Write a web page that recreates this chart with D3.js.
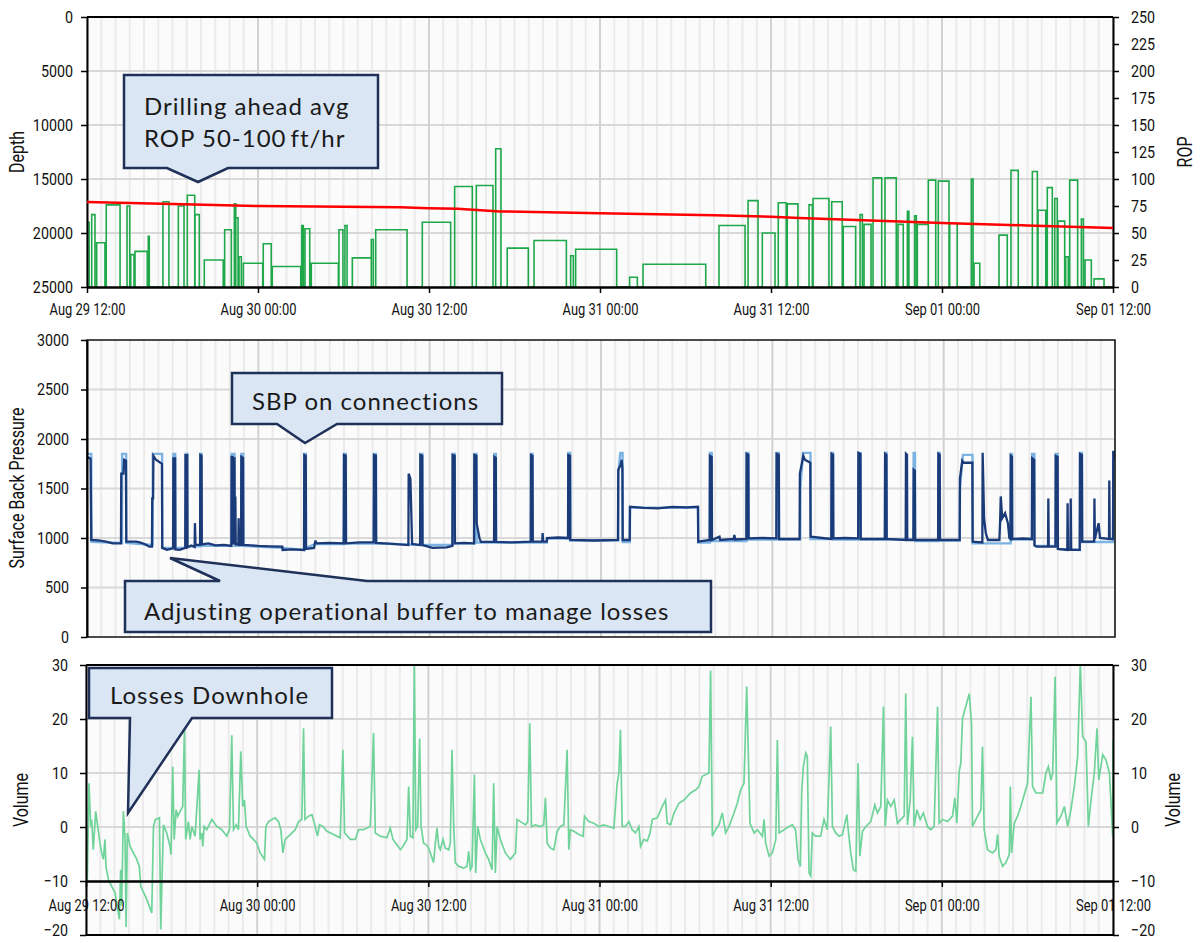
<!DOCTYPE html>
<html lang="en">
<head>
<meta charset="UTF-8">
<title>Depth / ROP, Surface Back Pressure and Volume</title>
<script src="https://d3js.org/d3.v7.min.js"></script>
<style>
  body { margin: 0; background: #fff; }
  .tick text, .axis-title {
    font-family: Roboto, "Liberation Sans", sans-serif;
    fill: #111;
  }
  .axis-title { font-size: 20px; }
  .callout path { fill: #dae6f4; stroke: #1f3158; stroke-width: 2.5; }
  .callout text { font-family: Lato, "Open Sans", sans-serif; font-size: 24px; letter-spacing: 1px; fill: #1a1a1a; }
</style>
</head>
<body>
<svg id="chart" width="1200" height="943"></svg>
<script>
// ---- data (hours since Aug 29 12:00) ----
const hourTicks = [0, 12, 24, 36, 48, 60, 72];
const tickLabels = ["Aug 29 12:00", "Aug 30 00:00", "Aug 30 12:00", "Aug 31 00:00", "Aug 31 12:00", "Sep 01 00:00", "Sep 01 12:00"];
const depthTicks = [0, 5000, 10000, 15000, 20000, 25000];
const ropTicks = [0, 25, 50, 75, 100, 125, 150, 175, 200, 225, 250];
const sbpTicks = [0, 500, 1000, 1500, 2000, 2500, 3000];
const volTicks = [-20, -10, 0, 10, 20, 30];

// bit depth (red)
const depthHours = [0, 6, 12, 18, 22, 24, 26, 29, 36, 44, 48, 50, 54, 60, 66, 72];
const depthValues = [17130, 17320, 17500, 17580, 17620, 17700, 17760, 18000, 18180, 18360, 18500, 18620, 18800, 19080, 19300, 19540];

// ROP stands (green)
const ropStart = [0, 0.33, 0.68, 1.35, 2.81, 3.07, 3.37, 4.30, 5.33, 6.41, 7.04, 7.58, 8.23, 9.66, 10.34, 10.44, 10.67, 10.97, 12.37, 13.0,
  15.07, 15.3, 15.74, 17.68, 18.1, 18.62, 19.95, 20.26, 23.53, 25.8, 27.32, 28.68, 29.49, 31.37, 33.94, 34.29, 38.08, 39.02, 44.35, 46.39,
  47.39, 48.51, 49.14, 50.67, 50.95, 52.26, 53.07, 54.25, 54.53, 55.16, 56.0, 56.91, 57.57, 58.08, 58.27, 59.04, 59.74, 60.54, 62.06, 62.25,
  64.0, 64.84, 66.34, 66.74, 67.39, 67.91, 68.14, 68.68, 68.96, 69.78, 70.04, 70.67];
const ropEnd = [0.15, 0.56, 1.26, 2.32, 3.0, 3.3, 4.23, 4.37, 5.75, 6.81, 7.56, 7.88, 9.56, 10.13, 10.44, 10.6, 10.83, 12.33, 12.93, 15.0,
  15.18, 15.63, 17.64, 17.96, 18.25, 19.95, 20.09, 22.46, 25.52, 27.04, 28.49, 29.05, 30.97, 33.64, 34.13, 37.17, 38.62, 43.42, 46.18, 47.09,
  48.28, 49.07, 49.89, 50.9, 52.07, 53.0, 53.94, 54.41, 55.02, 55.77, 56.79, 57.28, 57.68, 58.2, 59.04, 59.56, 60.49, 61.07, 62.18, 62.65,
  64.58, 65.35, 66.69, 67.28, 67.74, 68.09, 68.61, 68.86, 69.52, 69.92, 70.48, 71.37];
const ropValue = [60, 67, 41, 76, 75, 30, 33, 47, 79, 75, 85, 67, 25, 53, 77, 64, 28, 22, 40, 19,
  57, 54, 22, 53, 57, 27, 44, 53, 60, 93, 94, 128, 36, 43, 29, 35, 9, 21, 57, 80,
  50, 78, 77, 76, 82, 79, 56, 67, 58, 101, 101, 58, 70, 66, 58, 99, 98, 59, 100, 22,
  48, 108, 107, 71, 92, 82, 61, 28, 99, 63, 25, 7.5];

// surface back pressure, setpoint (light blue) and actual (dark blue)
const sbpSetpoint = [[0,1850],[0.3,1850],[0.31,960],[2.45,950],[2.46,1850],[2.74,1850],[2.75,950],[4.6,930],[4.61,1850],[5.26,1850],[5.27,900],
  [6.04,900],[6.05,1850],[6.18,1850],[6.19,900],[6.9,900],[6.91,1850],[7.02,1850],[7.03,915],[7.93,915],[7.94,1850],[8.03,1850],[8.04,920],
  [10.12,920],[10.13,1850],[10.33,1850],[10.34,920],[10.8,920],[10.81,1850],[10.94,1850],[10.95,920],[13.7,900],[15.21,880],[15.22,1850],
  [15.33,1850],[15.34,900],[16.0,940],[17.99,940],[18.0,1850],[18.13,1850],[18.14,945],[20.09,945],[20.1,1850],[20.24,1850],[20.25,945],
  [23.34,930],[23.35,1850],[23.49,1850],[23.5,930],[25.6,930],[25.61,1850],[25.76,1850],[25.77,945],[27.12,945],[27.13,1850],[27.28,1850],
  [27.29,955],[28.52,955],[28.53,1850],[28.64,1850],[28.65,955],[31.09,955],[31.1,1850],[31.21,1850],[31.22,955],[32.2,955],[32.22,995],
  [33.7,995],[33.71,1860],[33.84,1860],[33.85,975],[37.2,975],[37.21,1650],[37.35,1860],[37.51,1860],[37.52,960],[38.02,960],[38.03,1305],
  [42.8,1305],[42.81,955],[43.62,955],[43.63,1860],[43.76,1860],[43.77,970],[46.19,970],[46.2,1860],[46.33,1860],[46.34,985],[48.29,985],
  [48.3,1860],[48.46,1860],[48.47,985],[49.95,985],[49.96,1500],[50.15,1860],[50.67,1860],[50.68,990],[52.14,990],[52.15,1860],[52.26,1860],
  [52.27,985],[54.02,985],[54.03,1860],[54.18,1860],[54.19,985],[55.89,985],[55.9,1860],[56.0,1860],[56.01,985],[57.88,985],[57.9,1860],
  [57.99,1860],[58.0,970],[59.62,970],[59.63,1860],[59.73,1860],[59.74,975],[61.13,975],[61.14,1500],[61.35,1840],[62.02,1840],[62.03,946],
  [64.69,946],[64.7,1850],[64.79,1850],[64.8,985],[66.19,985],[66.2,1850],[66.35,1850],[66.36,920],[67.84,920],[67.85,1850],[67.99,1850],
  [68.0,890],[69.54,880],[69.55,1860],[69.69,1860],[69.7,960],[71.87,960],[71.88,1870],[72,1870]];

const sbpActual = [[0,1820],[0.25,1800],[0.3,980],[0.8,975],[1.33,963],[1.8,946],[2.38,946],[2.4,1650],[2.55,1650],[2.6,1790],[2.73,1780],[2.75,963],
  [3.43,963],[3.7,955],[4.02,940],[4.37,912],[4.55,912],[4.57,1400],[4.63,1400],[4.65,1830],[4.83,1790],[5.25,1750],[5.27,900],[5.6,880],[6.03,896],
  [6.05,1805],[6.17,1805],[6.19,885],[6.5,880],[6.88,900],[6.9,1838],[7.02,1838],[7.04,905],[7.3,925],[7.54,910],[7.56,1150],[7.6,930],[7.92,930],[7.94,1838],
  [8.02,1830],[8.04,935],[8.5,945],[9.0,925],[9.6,930],[10.11,920],[10.13,1820],[10.2,1820],[10.22,935],[10.27,1805],[10.33,1805],[10.35,935],[10.39,1420],
  [10.42,935],[10.6,935],[10.62,1200],[10.65,930],[10.79,930],[10.81,1820],[10.93,1810],[10.95,930],[11.5,925],[12.0,920],[12.8,915],[13.68,912],[13.7,879],
  [14.4,885],[15.2,879],[15.22,1838],[15.32,1830],[15.34,890],[15.9,900],[16.0,975],[16.05,946],[17.0,950],[17.98,946],[18.0,1838],[18.12,1830],[18.14,946],
  [19.1,955],[20.08,955],[20.1,1838],[20.23,1830],[20.25,950],[21.4,940],[22.51,929],[22.53,1650],[22.65,1600],[22.77,940],[23.33,929],[23.35,1838],[23.48,1830],
  [23.5,929],[24.2,900],[25.2,905],[25.59,920],[25.61,1838],[25.75,1830],[25.77,946],[26.4,950],[27.11,946],[27.13,1838],[27.27,1830],[27.29,1150],
  [27.5,990],[27.6,960],[28.51,960],[28.53,1820],[28.63,1810],[28.65,960],[29.8,955],[31.08,963],[31.1,1838],[31.2,1830],[31.22,963],[31.89,963],
  [31.91,1050],[31.95,963],[32.2,963],[32.22,1000],[33.0,1005],[33.69,1000],[33.71,1838],[33.83,1830],[33.85,980],[35.5,975],[37.19,980],[37.21,1690],[37.38,1740],
  [37.45,1790],[37.5,1700],[37.52,980],[38.01,980],[38.03,1316],[39,1305],[40,1300],[41,1315],[42,1310],[42.79,1316],[42.81,963],[43.61,980],[43.63,1830],
  [43.75,1820],[43.77,980],[44.3,1013],[44.35,980],[45.3,990],[45.34,1030],[45.4,985],[46.18,990],[46.2,1850],[46.32,1840],[46.34,997],
  [47.3,1000],[48.28,997],[48.3,1850],[48.45,1840],[48.47,990],[49.91,990],[49.93,1650],[50.17,1830],[50.28,1790],[50.66,1760],[50.68,1013],[52.13,990],
  [52.15,1850],[52.25,1840],[52.27,997],[53.1,1000],[54.01,997],[54.03,1860],[54.17,1850],[54.19,990],[55.88,990],[55.9,1850],[55.99,1840],[56.01,990],
  [57.34,980],[57.36,1850],[57.43,1840],[57.45,980],[57.88,980],[57.9,1690],[57.98,1680],[58.0,980],[59.61,980],[59.63,1850],[59.72,1840],
  [59.74,980],[61.12,980],[61.14,1600],[61.3,1780],[61.4,1760],[62.01,1760],[62.03,963],[62.71,955],[62.73,1860],[62.83,1200],[62.95,1050],
  [63.1,980],[63.9,980],[63.95,1150],[64.0,1420],[64.1,1200],[64.3,1250],[64.5,1150],[64.6,1000],[64.68,990],[64.7,1830],[64.78,1820],
  [64.8,990],[65.5,995],[66.18,990],[66.2,1805],[66.34,1790],[66.36,929],[66.5,912],[67.31,912],[67.33,1400],[67.36,912],[67.83,912],
  [67.85,1830],[67.98,1820],[68.0,890],[68.66,880],[68.68,1350],[68.71,880],[68.88,885],[68.9,1400],[68.93,880],[69.53,880],[69.55,1850],
  [69.68,1840],[69.7,963],[70.54,963],[70.56,1400],[70.59,990],[70.85,1150],[70.95,1000],[71.58,990],[71.6,1580],[71.63,990],[71.86,990],
  [71.88,1880],[72,1800]];

// pit volume (green)
const volume = [[0,-8.5],[0.09,-9.7],[0.21,8.1],[0.33,0.1],[0.40,1.4],[0.51,-4.2],[0.68,2.9],[0.82,0.1],[0.98,-3.0],[1.10,-4.8],[1.22,-6.0],
  [1.33,-2.3],[1.40,-7.3],[1.57,-9.7],[1.80,-11.0],[2.04,-12.2],[2.34,-17.1],[2.43,-7.9],[2.50,-14.6],[2.62,2.9],[2.74,-2.3],[2.81,-18.5],
  [2.90,-1.1],[3.09,-3.6],[3.32,-4.8],[3.56,-6.0],[3.74,-7.3],[3.84,-11.0],[4.26,-13.4],[4.61,-15.9],[4.73,0.1],[4.87,1.4],[5.15,1.7],
  [5.24,-19],[5.33,-9.7],[5.43,0.4],[5.66,-1.1],[5.89,-3.6],[5.96,-5.1],[6.08,11.2],[6.18,-2.3],[6.32,3.2],[6.43,2.0],[6.60,2.9],[6.78,3.8],
  [6.90,18.0],[6.99,-2.3],[7.18,1.0],[7.30,-2.3],[7.42,0.1],[7.65,-1.7],[7.93,10.6],[8.00,-2.3],[8.12,-1.1],[8.19,-3.6],[8.28,0.1],[8.47,-0.5],
  [8.82,1.4],[9.17,0.1],[9.52,-0.5],[9.87,-1.7],[10.06,-0.5],[10.22,17.0],[10.34,-0.5],[10.53,0.4],[10.69,-0.5],[10.85,14.0],[10.99,3.8],
  [11.11,5.0],[11.23,0.1],[11.51,-1.7],[11.74,-2.3],[11.98,-3.0],[12.21,-4.8],[12.51,-6.0],[12.61,0.1],[12.80,1.0],[13.03,1.4],[13.26,1.7],
  [13.50,1.0],[13.66,-0.5],[13.80,-4.8],[13.96,-2.3],[14.32,-1.4],[14.67,-0.5],[14.90,1.0],[15.13,1.4],[15.25,18.3],[15.35,1.4],[15.60,2.0],
  [15.84,2.3],[16.07,0.1],[16.23,-1.7],[16.37,0.4],[16.61,0.1],[16.89,-0.8],[17.36,-1.4],[17.82,-2.0],[18.01,14.3],[18.13,-1.1],[18.53,-2.3],
  [18.88,-2.3],[19.11,-0.5],[19.46,-0.5],[19.93,0.1],[20.16,17.4],[20.28,-1.1],[20.63,-1.7],[21.10,-2.0],[21.33,-0.2],[21.52,-2.3],[21.80,-3.3],
  [22.04,-4.2],[22.22,-3.6],[22.50,-2.3],[22.62,7.5],[22.74,-1.7],[22.92,-2.0],[23.02,31],[23.12,-0.5],[23.25,0.1],[23.39,16.4],[23.49,0.1],
  [23.67,-3.0],[23.86,-3.3],[24.02,-3.9],[24.14,-4.8],[24.37,-6.6],[24.49,-3.0],[24.61,-0.2],[24.73,-3.6],[24.84,-4.2],[25.03,-2.3],[25.19,-3.9],
  [25.43,-4.2],[25.54,-3.0],[25.66,14.3],[25.78,0.1],[25.89,-6.6],[26.13,-7.3],[26.48,-7.6],[26.71,-7.3],[26.83,-4.5],[26.95,-7.9],[27.06,-7.3],
  [27.23,9.7],[27.32,-8.5],[27.46,0.1],[27.65,-2.3],[28.00,-4.8],[28.23,-6.0],[28.47,-7.9],[28.58,8.1],[28.70,-8.5],[28.82,0.1],[29.05,-2.3],
  [29.40,-4.8],[29.75,-6.0],[30.11,-4.8],[30.22,1.4],[30.46,1.0],[30.81,0.4],[30.97,1.0],[31.11,19.2],[31.23,0.1],[31.51,0.4],[31.86,0.1],
  [32.09,0.4],[32.21,5.4],[32.33,-3.0],[32.56,-3.9],[32.80,-4.2],[33.03,-0.8],[33.26,0.1],[33.50,0.4],[33.73,14.3],[33.85,-4.2],[33.96,-0.5],
  [34.20,-0.8],[34.55,-1.4],[34.85,-1.7],[34.95,2.0],[35.25,1.0],[35.60,0.7],[35.95,0.1],[36.30,0.4],[36.66,0.1],[37.01,-0.2],[37.24,8.1],
  [37.36,10.0],[37.47,18.0],[37.59,0.1],[37.82,0.1],[38.06,1.0],[38.29,-0.5],[38.53,-1.1],[38.76,0.1],[38.88,-3.6],[39.11,-2.3],[39.35,-2.6],
  [39.54,-1.1],[39.70,1.4],[40.05,1.7],[40.40,3.8],[40.63,5.0],[40.75,0.7],[40.98,0.4],[41.22,2.6],[41.57,4.4],[41.92,5.0],[42.39,6.3],
  [42.74,6.9],[42.97,7.5],[43.20,9.4],[43.67,10.0],[43.79,29.0],[43.91,-1.7],[44.14,-0.5],[44.37,0.4],[44.61,2.6],[44.84,-1.1],[45.08,0.1],
  [45.43,2.6],[45.66,4.4],[45.90,6.9],[46.13,8.1],[46.32,26.0],[46.55,0.7],[46.84,-1.1],[47.07,-0.5],[47.42,-1.7],[47.54,1.4],[47.65,-3.0],
  [47.89,-5.4],[48.12,-4.8],[48.36,-2.3],[48.47,16.1],[48.59,-1.1],[48.94,-0.5],[49.29,0.1],[49.52,0.4],[49.75,-0.5],[49.92,-6.0],[50.08,-7.3],
  [50.18,6.9],[50.29,11.2],[50.46,13.7],[50.57,13.0],[50.69,-8.5],[50.81,-9.1],[50.92,-1.1],[51.15,-1.7],[51.50,-1.7],[51.74,1.4],[51.97,-0.5],
  [52.21,18.6],[52.33,0.1],[52.56,-1.1],[52.80,-1.7],[53.03,-1.4],[53.34,2.3],[53.46,-1.1],[53.61,-4.8],[53.80,-7.9],[53.97,-8.2],[54.13,11.8],
  [54.25,-5.4],[54.44,-0.8],[54.67,0.1],[55.02,1.0],[55.30,4.1],[55.49,2.6],[55.72,3.8],[55.91,22.3],[56.03,0.1],[56.19,5.0],[56.42,3.8],
  [56.66,5.0],[56.89,0.7],[57.12,1.4],[57.36,2.0],[57.47,24.7],[57.59,0.4],[57.78,5.0],[57.94,16.7],[58.06,0.1],[58.25,3.2],[58.48,1.4],
  [58.71,2.6],[58.99,0.1],[59.23,-0.5],[59.46,0.1],[59.70,22.3],[59.81,0.7],[60.05,1.4],[60.40,1.0],[60.75,2.0],[60.91,5.4],[61.05,0.7],
  [61.22,10.3],[61.33,11.8],[61.45,20.1],[61.68,22.3],[61.92,24.7],[62.08,19.2],[62.15,0.1],[62.39,1.4],[62.74,3.2],[62.85,14.9],[62.97,-0.5],
  [63.20,-4.2],[63.56,-4.8],[63.79,-4.2],[63.91,-1.4],[64.02,-5.4],[64.26,-7.3],[64.49,-6.6],[64.73,-5.1],[64.80,7.5],[64.89,-4.8],[65.08,0.7],
  [65.31,2.0],[65.54,3.8],[65.78,6.0],[66.01,8.1],[66.25,24.1],[66.36,7.5],[66.60,6.3],[66.83,6.3],[67.07,6.3],[67.30,10.0],[67.47,11.2],
  [67.65,8.7],[67.77,10.0],[67.94,27.8],[68.07,0.7],[68.35,2.0],[68.59,3.8],[68.82,0.1],[69.05,3.2],[69.29,7.5],[69.52,13.0],[69.71,30.5],
  [69.87,16.7],[70.11,15.8],[70.27,0.1],[70.46,5.0],[70.69,10.0],[70.88,18.3],[71.00,8.7],[71.28,13.4],[71.51,12.4],[71.75,10.0],[71.98,-1.7],
  [72,16.1]];

// ---- layout ----
const svg = d3.select("#chart");
const hours = d3.range(0, 73);   // hourly grid
const plain = d3.format("d");

const p1 = { left: 87, right: 1113, top: 17, bottom: 287 };
const p2 = { left: 87, right: 1115, top: 340, bottom: 637 };
const p3 = { left: 86, right: 1113, top: 665, bottom: 935 };

function background(p, x, yVals, y) {
  const g = svg.append("g");
  g.append("rect").attr("x", p.left).attr("y", p.top)
    .attr("width", p.right - p.left).attr("height", p.bottom - p.top)
    .attr("fill", "#fbfbfb");
  g.selectAll(".vminor").data(hours.filter(h => h % 12 !== 0)).enter().append("line")
    .attr("x1", d => x(d)).attr("x2", d => x(d)).attr("y1", p.top).attr("y2", p.bottom)
    .attr("stroke", "#ebebeb").attr("stroke-width", 2);
  g.selectAll(".hgrid").data(yVals).enter().append("line")
    .attr("x1", p.left).attr("x2", p.right).attr("y1", d => y(d)).attr("y2", d => y(d))
    .attr("stroke", "#d9d9d9").attr("stroke-width", 2);
  g.selectAll(".vmajor").data(hourTicks).enter().append("line")
    .attr("x1", d => x(d)).attr("x2", d => x(d)).attr("y1", p.top).attr("y2", p.bottom)
    .attr("stroke", "#d2d2d2").attr("stroke-width", 2);
}

function clipFor(id, p) {
  svg.append("clipPath").attr("id", id).append("rect")
    .attr("x", p.left).attr("y", p.top).attr("width", p.right - p.left).attr("height", p.bottom - p.top);
}

// squeeze text horizontally to mimic the condensed face of the original
function squeeze(sel, f) {
  sel.each(function () {
    const w = this.getComputedTextLength();
    d3.select(this).attr("textLength", w * f).attr("lengthAdjust", "spacingAndGlyphs");
  });
}

function styleAxis(g, width, f) {
  g.select(".domain").attr("stroke", "#000").attr("stroke-width", width);
  g.selectAll(".tick line").attr("stroke", "#000").attr("stroke-width", 1.5);
  g.selectAll(".tick text").attr("font-size", 17).attr("font-family", null);
  squeeze(g.selectAll(".tick text"), f || 0.84);
}

function axisTitle(x, y, text) {
  svg.append("text").attr("class", "axis-title")
    .attr("transform", `translate(${x},${y}) rotate(-90)`)
    .attr("text-anchor", "middle").text(text)
    .call(t => squeeze(t, 0.8));
}

// ---- panel 1: depth and ROP ----
const x1 = d3.scaleLinear().domain([0, 72]).range([p1.left, p1.right]);
const yDepth = d3.scaleLinear().domain([0, 25000]).range([p1.top, p1.bottom]);
const yRop = d3.scaleLinear().domain([0, 250]).range([p1.bottom, p1.top]);

background(p1, x1, [5000, 10000, 15000, 20000], yDepth);
clipFor("clip1", p1);

const ropPts = [];
ropStart.forEach((s, i) => {
  ropPts.push([s, 0], [s, ropValue[i]], [ropEnd[i], ropValue[i]], [ropEnd[i], 0]);
});
ropPts.push([72, 0]);

svg.append("path").datum(ropPts).attr("clip-path", "url(#clip1)")
  .attr("fill", "none").attr("stroke", "#1fa84a").attr("stroke-width", 1.6)
  .attr("d", d3.line().x(d => x1(d[0])).y(d => yRop(d[1])));

svg.append("line").attr("x1", p1.left).attr("x2", p1.right).attr("y1", p1.top).attr("y2", p1.top)
  .attr("stroke", "#000").attr("stroke-width", 2);

svg.append("g").attr("transform", `translate(0,${p1.bottom})`)
  .call(d3.axisBottom(x1).tickValues(hourTicks).tickFormat((d, i) => tickLabels[i]).tickSize(6).tickSizeOuter(0).tickPadding(10))
  .call(g => styleAxis(g, 2.5, 0.76));
svg.append("g").attr("transform", `translate(${p1.left},0)`)
  .call(d3.axisLeft(yDepth).tickValues(depthTicks).tickFormat(plain).tickSize(6).tickSizeOuter(0).tickPadding(8))
  .call(g => styleAxis(g, 2));
svg.append("g").attr("transform", `translate(${p1.right},0)`)
  .call(d3.axisRight(yRop).tickValues(ropTicks).tickSize(6).tickSizeOuter(0).tickPadding(12))
  .call(g => styleAxis(g, 2));

svg.append("path").datum(depthHours.map((h, i) => [h, depthValues[i]]))
  .attr("fill", "none").attr("stroke", "#ff0000").attr("stroke-width", 2.5)
  .attr("d", d3.line().x(d => x1(d[0])).y(d => yDepth(d[1])));

axisTitle(24, 152, "Depth");
axisTitle(1192, 152, "ROP");

// ---- panel 2: surface back pressure ----
const x2 = d3.scaleLinear().domain([0, 72]).range([p2.left, p2.right]);
const ySbp = d3.scaleLinear().domain([0, 3000]).range([p2.bottom, p2.top]);

background(p2, x2, [500, 1000, 1500, 2000, 2500], ySbp);
clipFor("clip2", p2);

const sbpLine = d3.line().x(d => x2(d[0])).y(d => ySbp(d[1]));
svg.append("path").datum(sbpSetpoint).attr("clip-path", "url(#clip2)")
  .attr("fill", "none").attr("stroke", "#7db3e3").attr("stroke-width", 2.4).attr("d", sbpLine);
svg.append("path").datum(sbpActual).attr("clip-path", "url(#clip2)")
  .attr("fill", "none").attr("stroke", "#1b3a78").attr("stroke-width", 2.3).attr("d", sbpLine);

svg.append("rect").attr("x", p2.left).attr("y", p2.top)
  .attr("width", p2.right - p2.left).attr("height", p2.bottom - p2.top)
  .attr("fill", "none").attr("stroke", "#111").attr("stroke-width", 1.5);
svg.append("g").attr("transform", `translate(${p2.left},0)`)
  .call(d3.axisLeft(ySbp).tickValues(sbpTicks).tickFormat(plain).tickSize(6).tickSizeOuter(0).tickPadding(12))
  .call(g => styleAxis(g, 2));

axisTitle(24, 488, "Surface Back Pressure");

// ---- panel 3: volume ----
const x3 = d3.scaleLinear().domain([0, 72]).range([p3.left, p3.right]);
const yVol = d3.scaleLinear().domain([-20, 30]).range([p3.bottom, p3.top]);

background(p3, x3, [0, 10, 20], yVol);
clipFor("clip3", p3);

svg.append("path").datum(volume).attr("clip-path", "url(#clip3)")
  .attr("fill", "none").attr("stroke", "#6fd39a").attr("stroke-width", 1.7)
  .attr("d", d3.line().x(d => x3(d[0])).y(d => yVol(d[1])));

svg.append("line").attr("x1", p3.left).attr("x2", p3.right).attr("y1", p3.top).attr("y2", p3.top)
  .attr("stroke", "#000").attr("stroke-width", 2);
svg.append("line").attr("x1", p3.left).attr("x2", p3.right).attr("y1", p3.bottom).attr("y2", p3.bottom)
  .attr("stroke", "#000").attr("stroke-width", 2);
svg.append("g").attr("transform", `translate(0,${yVol(-10)})`)
  .call(d3.axisBottom(x3).tickValues(hourTicks).tickFormat((d, i) => tickLabels[i]).tickSize(6).tickSizeOuter(0).tickPadding(12))
  .call(g => styleAxis(g, 2.5, 0.76));

// the lowest label sits at the very bottom of the page: lift it a little
function liftBottom(g) {
  g.selectAll(".tick text").filter(d => d === -20).attr("dy", "0.05em");
}
svg.append("g").attr("transform", `translate(${p3.left},0)`)
  .call(d3.axisLeft(yVol).tickValues(volTicks).tickSize(6).tickSizeOuter(0).tickPadding(12))
  .call(g => styleAxis(g, 2)).call(liftBottom);
svg.append("g").attr("transform", `translate(${p3.right},0)`)
  .call(d3.axisRight(yVol).tickValues(volTicks).tickSize(6).tickSizeOuter(0).tickPadding(12))
  .call(g => styleAxis(g, 2)).call(liftBottom);

axisTitle(28, 800, "Volume");
axisTitle(1180, 800, "Volume");

// ---- callouts ----
const callouts = [
  { path: "M124,75 H378 V168 H228 L198,182 L167,168 H124 Z", x: 144, lines: [["Drilling ahead avg", 115], ["ROP 50-100\u2009ft/hr", 147]] },
  { path: "M232,373 H502 V424 H337 L305,443 L277,424 H232 Z", x: 252, lines: [["SBP on connections", 410]] },
  { path: "M125,581 H220 L170,558 L367,581 H711 V632 H125 Z", x: 144, lines: [["Adjusting operational buffer to manage losses", 620]] },
  { path: "M89,668 H332 V718 H192 L128,813 L130,718 H89 Z", x: 110, lines: [["Losses Downhole", 704]] }
];
callouts.forEach(c => {
  const g = svg.append("g").attr("class", "callout");
  g.append("path").attr("d", c.path);
  c.lines.forEach(l => g.append("text").attr("x", c.x).attr("y", l[1]).text(l[0]));
});
</script>
</body>
</html>
